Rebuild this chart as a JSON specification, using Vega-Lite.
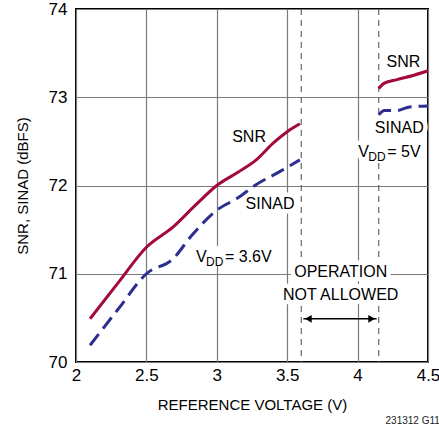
{
  "$schema": "https://vega.github.io/schema/vega-lite/v6.json",
  "autosize": "none",
  "width": 352,
  "height": 353,
  "padding": {"left": 76, "top": 9, "right": 11, "bottom": 65},
  "background": "white",
  "config": {
    "font": "Liberation Sans",
    "view": {"stroke": "black", "strokeWidth": 2},
    "axis": {"domain": false, "ticks": false, "gridColor": "#7a7a7a", "gridWidth": 1.2, "gridOpacity": 1,
             "labelFont": "Liberation Sans", "labelFontSize": 17, "labelColor": "black",
             "titleFont": "Liberation Sans", "titleFontSize": 15, "titleFontWeight": "normal", "titleColor": "black"}
  },
  "title": {"text": "231312 G11", "orient": "bottom", "anchor": "end", "fontSize": 10, "fontWeight": "normal", "font": "Liberation Sans", "color": "#222", "offset": 4},
  "datasets": {
    "curves": [
      {"series": "SNR 3.6V", "v": 2.1, "db": 70.49},
      {"series": "SNR 3.6V", "v": 2.3, "db": 70.9},
      {"series": "SNR 3.6V", "v": 2.5, "db": 71.3},
      {"series": "SNR 3.6V", "v": 2.69, "db": 71.53},
      {"series": "SNR 3.6V", "v": 2.85, "db": 71.78},
      {"series": "SNR 3.6V", "v": 3.0, "db": 72.0},
      {"series": "SNR 3.6V", "v": 3.15, "db": 72.15},
      {"series": "SNR 3.6V", "v": 3.28, "db": 72.29},
      {"series": "SNR 3.6V", "v": 3.4, "db": 72.48},
      {"series": "SNR 3.6V", "v": 3.5, "db": 72.61},
      {"series": "SNR 3.6V", "v": 3.59, "db": 72.7},
      {"series": "SINAD 3.6V", "v": 2.1, "db": 70.19},
      {"series": "SINAD 3.6V", "v": 2.3, "db": 70.6},
      {"series": "SINAD 3.6V", "v": 2.5, "db": 71.0},
      {"series": "SINAD 3.6V", "v": 2.69, "db": 71.17},
      {"series": "SINAD 3.6V", "v": 2.82, "db": 71.43},
      {"series": "SINAD 3.6V", "v": 3.0, "db": 71.72},
      {"series": "SINAD 3.6V", "v": 3.15, "db": 71.86},
      {"series": "SINAD 3.6V", "v": 3.27, "db": 72.0},
      {"series": "SINAD 3.6V", "v": 3.45, "db": 72.16},
      {"series": "SINAD 3.6V", "v": 3.59, "db": 72.29},
      {"series": "SNR 5V", "v": 4.15, "db": 73.1},
      {"series": "SNR 5V", "v": 4.19, "db": 73.16},
      {"series": "SNR 5V", "v": 4.28, "db": 73.2},
      {"series": "SNR 5V", "v": 4.4, "db": 73.25},
      {"series": "SNR 5V", "v": 4.5, "db": 73.3},
      {"series": "SINAD 5V", "v": 4.15, "db": 72.8},
      {"series": "SINAD 5V", "v": 4.19, "db": 72.85},
      {"series": "SINAD 5V", "v": 4.28, "db": 72.85},
      {"series": "SINAD 5V", "v": 4.37, "db": 72.89},
      {"series": "SINAD 5V", "v": 4.5, "db": 72.9}
    ],
    "labels": [
      {"text": "SNR", "v": 3.229, "db": 72.548},
      {"text": "SINAD", "v": 3.378, "db": 71.788},
      {"text": "SNR", "v": 4.325, "db": 73.40},
      {"text": "SINAD", "v": 4.296, "db": 72.646},
      {"text": "OPERATION", "v": 3.88, "db": 71.02},
      {"text": "NOT ALLOWED", "v": 3.88, "db": 70.76}
    ],
    "vdd": [
      {"v": 2.852, "db": 71.13, "rest": "= 3.6V"},
      {"v": 4.005, "db": 72.32, "rest": "= 5V"}
    ],
    "limits": [{"v": 3.6}, {"v": 4.15}],
    "arrow": [{"v": 3.615, "v2": 4.135, "db": 70.49}],
    "heads": [{"v": 3.65, "db": 70.49, "dir": "left"}, {"v": 4.1, "db": 70.49, "dir": "right"}]
  },
  "encoding": {
    "x": {"field": "v", "type": "quantitative", "scale": {"domain": [2, 4.5]},
          "axis": {"values": [2, 2.5, 3, 3.5, 4, 4.5], "format": ".2~f", "title": "REFERENCE VOLTAGE (V)", "labelPadding": 5, "titlePadding": 14, "labelFlush": false}},
    "y": {"field": "db", "type": "quantitative", "scale": {"domain": [70, 74]},
          "axis": {"values": [70, 71, 72, 73, 74], "title": "SNR, SINAD (dBFS)", "labelPadding": 9, "titlePadding": 18}}
  },
  "layer": [
    {"data": {"name": "limits"}, "mark": {"type": "rule", "color": "#666", "strokeWidth": 1.2, "strokeDash": [6, 5]},
     "encoding": {"y": {"value": 0}, "y2": {"value": 353}}},
    {"data": {"name": "labels"}, "mark": {"type": "text", "fontSize": 16, "stroke": "white", "strokeWidth": 9, "strokeJoin": "round", "fill": "white"},
     "encoding": {"text": {"field": "text"}}},
    {"data": {"name": "vdd"}, "mark": {"type": "text", "fontSize": 16, "align": "left", "baseline": "alphabetic", "stroke": "white", "strokeWidth": 9, "strokeJoin": "round", "fill": "white", "dx": 22},
     "encoding": {"text": {"field": "rest"}}},
    {"data": {"name": "vdd"}, "mark": {"type": "text", "fontSize": 16, "align": "left", "baseline": "alphabetic", "stroke": "white", "strokeWidth": 9, "strokeJoin": "round", "fill": "white", "text": "VDD"},
     "encoding": {}},
    {"data": {"name": "curves"}, "transform": [{"filter": "indexof(datum.series, 'SNR') == 0"}],
     "mark": {"type": "line", "color": "#a30a3b", "strokeWidth": 3, "interpolate": "monotone"},
     "encoding": {"detail": {"field": "series"}}},
    {"data": {"name": "curves"}, "transform": [{"filter": "indexof(datum.series, 'SINAD') == 0"}],
     "mark": {"type": "line", "color": "#2c2f8f", "strokeWidth": 3, "strokeDash": [14, 7], "interpolate": "monotone"},
     "encoding": {"detail": {"field": "series"}}},
    {"data": {"name": "labels"}, "mark": {"type": "text", "fontSize": 16, "color": "black"},
     "encoding": {"text": {"field": "text"}}},
    {"data": {"name": "vdd"}, "mark": {"type": "text", "fontSize": 16, "align": "left", "baseline": "alphabetic", "color": "black", "text": "V"},
     "encoding": {}},
    {"data": {"name": "vdd"}, "mark": {"type": "text", "fontSize": 12, "align": "left", "baseline": "alphabetic", "color": "black", "text": "DD", "dx": 10, "dy": 4},
     "encoding": {}},
    {"data": {"name": "vdd"}, "mark": {"type": "text", "fontSize": 16, "align": "left", "baseline": "alphabetic", "color": "black", "dx": 29},
     "encoding": {"text": {"field": "rest"}}},
    {"data": {"name": "arrow"}, "mark": {"type": "rule", "color": "black", "strokeWidth": 1.3},
     "encoding": {"x2": {"field": "v2"}}},
    {"data": {"name": "heads"}, "transform": [{"filter": "datum.dir == 'left'"}], "mark": {"type": "point", "shape": "triangle-left", "filled": true, "color": "black", "size": 60, "opacity": 1},
     "encoding": {}},
    {"data": {"name": "heads"}, "transform": [{"filter": "datum.dir == 'right'"}], "mark": {"type": "point", "shape": "triangle-right", "filled": true, "color": "black", "size": 60, "opacity": 1},
     "encoding": {}}
  ]
}
